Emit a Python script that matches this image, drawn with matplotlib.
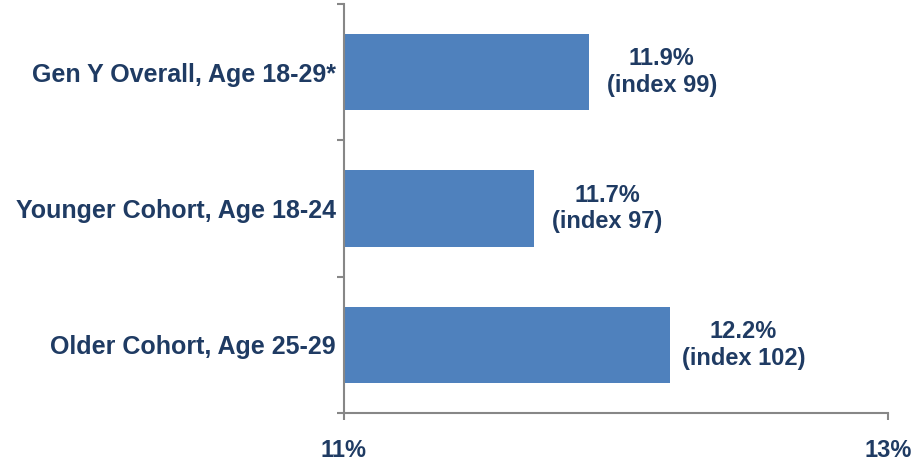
import matplotlib
matplotlib.use('Agg')
import matplotlib.pyplot as plt

plt.rcParams['font.family'] = ['Liberation Sans', 'DejaVu Sans']

# Share of Gen Y segments
categories = ['Gen Y Overall, Age 18-29*', 'Younger Cohort, Age 18-24', 'Older Cohort, Age 25-29']
values = [11.9, 11.7, 12.2]
index = [99, 97, 102]
xticks = [11, 13]
xtick_labels = ['11%', '13%']

navy = '#1F3B63'
grey = '#878787'
bar_color = '#4F81BD'

fig = plt.figure(figsize=(9.15, 4.63), dpi=100, facecolor='white')
ax = fig.add_axes([344/915, 1 - 413/463, 544/915, 409/463])

pos = range(len(categories))
ax.barh(pos, [v - 11 for v in values], left=11, height=0.56, color=bar_color)

for p, v, i in zip(pos, values, index):
    ax.annotate(f'{v:.1f}%\n(index {i})', xy=(v, p), xytext=(73, 0),
                textcoords='offset pixels', ha='center', va='center',
                fontsize=17, fontweight='bold', color=navy, linespacing=1.2)

ax.set_xlim(11, 13)
ax.set_ylim(len(categories) - 0.5, -0.5)

ax.set_yticks(list(pos))
ax.set_yticklabels(categories, fontsize=18, fontweight='bold', color=navy)
ax.tick_params(axis='y', length=0, pad=6)
ax.set_yticks([-0.5, 0.5, 1.5, 2.5], minor=True)
ax.tick_params(axis='y', which='minor', length=5, color=grey, width=1.5, left=True)

ax.set_xticks(xticks)
ax.set_xticklabels(xtick_labels, fontsize=17, fontweight='bold', color=navy)
ax.tick_params(axis='x', length=5, color=grey, width=1.5, pad=14)

for s in ['top', 'right']:
    ax.spines[s].set_visible(False)
for s in ['left', 'bottom']:
    ax.spines[s].set_color(grey)
    ax.spines[s].set_linewidth(1.5)

fig.savefig('out.png', dpi=100, facecolor='white')
